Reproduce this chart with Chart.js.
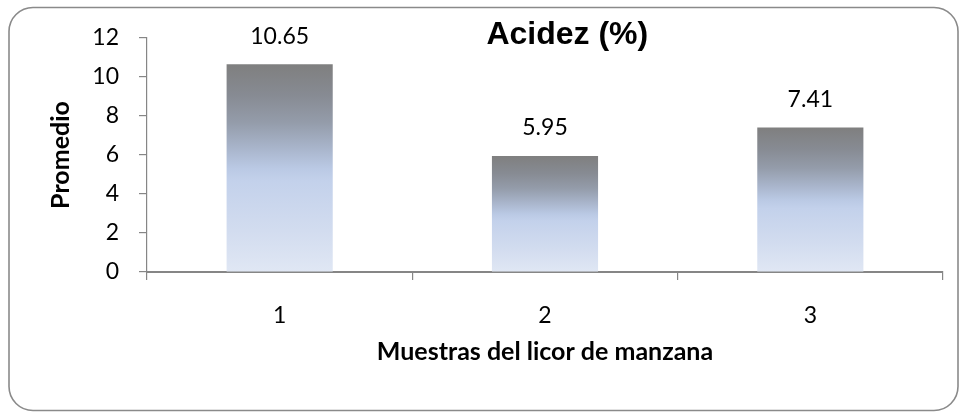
<!DOCTYPE html>
<html>
<head>
<meta charset="utf-8">
<title>Acidez (%)</title>
<script src="https://cdn.jsdelivr.net/npm/chart.js@4/dist/chart.umd.min.js"></script>
<style>
  html, body { margin: 0; padding: 0; background: #ffffff; }
  #wrap { width: 962px; height: 413px; position: relative; }
</style>
</head>
<body>
<div id="wrap"><canvas id="chart" width="962" height="413"></canvas></div>
<script>
// Sample labels and mean acidity per sample
const categories = ['1', '2', '3'];
const acidez = [10.65, 5.95, 7.41];
const yTicks = [0, 2, 4, 6, 8, 10, 12];

const chartTitle = 'Acidez (%)';
const yTitle = 'Promedio';
const xTitle = 'Muestras del licor de manzana';

const AXIS_GREY = '#868686';
const LABEL_FONT = 'Lato, "Open Sans", "DejaVu Sans", sans-serif';

// Vertical gray-to-pale-blue fill, computed per bar from its own extent
function barGradient(ctx) {
  const chart = ctx.chart;
  if (!chart.chartArea || ctx.type !== 'data') return '#c6d4ec';
  const y = chart.scales.y;
  const top = y.getPixelForValue(ctx.raw);
  const base = y.getPixelForValue(0);
  const g = chart.ctx.createLinearGradient(0, top, 0, base);
  g.addColorStop(0.00, '#7f7f7f');
  g.addColorStop(0.15, '#878b93');
  g.addColorStop(0.28, '#949caa');
  g.addColorStop(0.40, '#a8b4ca');
  g.addColorStop(0.50, '#bac9e4');
  g.addColorStop(0.56, '#c3d1eb');
  g.addColorStop(0.80, '#d2dcef');
  g.addColorStop(1.00, '#e0e7f4');
  return g;
}

// Rounded frame around the whole chart
const framePlugin = {
  id: 'frame',
  afterDraw(chart) {
    const c = chart.ctx;
    c.save();
    c.strokeStyle = '#8a8a8a';
    c.lineWidth = 1.6;
    c.beginPath();
    c.roundRect(9, 7.5, 949, 403, 24);
    c.stroke();
    c.restore();
  }
};

// Chart heading placed inside the plot, right of centre
const headingPlugin = {
  id: 'heading',
  afterDraw(chart) {
    const c = chart.ctx;
    const area = chart.chartArea;
    c.save();
    c.font = 'bold 32px "Liberation Sans", Arial, sans-serif';
    c.fillStyle = '#000000';
    c.textAlign = 'center';
    c.textBaseline = 'middle';
    c.fillText(chartTitle, area.left + (area.right - area.left) * 0.528, 35);
    c.restore();
  }
};

// Value written above each bar
const valueLabels = {
  id: 'valueLabels',
  afterDatasetsDraw(chart) {
    const c = chart.ctx;
    const meta = chart.getDatasetMeta(0);
    const values = chart.data.datasets[0].data;
    c.save();
    c.font = '23px ' + LABEL_FONT;
    c.fillStyle = '#000000';
    c.textAlign = 'center';
    c.textBaseline = 'middle';
    meta.data.forEach((bar, i) => {
      c.fillText(values[i].toFixed(2), bar.x, bar.y - 28);
    });
    c.restore();
  }
};

new Chart(document.getElementById('chart'), {
  type: 'bar',
  data: {
    labels: categories,
    datasets: [{
      label: chartTitle,
      data: acidez,
      backgroundColor: barGradient,
      borderWidth: 0,
      categoryPercentage: 1.0,
      barPercentage: 0.4
    }]
  },
  options: {
    responsive: false,
    animation: false,
    layout: { padding: { top: 38, right: 19, left: 0, bottom: 0 } },
    plugins: {
      legend: { display: false },
      title: { display: false },
      tooltip: { enabled: false }
    },
    scales: {
      x: {
        offset: true,
        afterFit(scale) { scale.height = 141; },
        border: { display: true, color: AXIS_GREY, width: 2 },
        grid: {
          offset: true,
          drawOnChartArea: false,
          drawTicks: true,
          tickLength: 8,
          color: AXIS_GREY,
          lineWidth: 1.2
        },
        ticks: {
          color: '#000000',
          padding: 22,
          font: { family: LABEL_FONT, size: 23 }
        },
        title: {
          display: true,
          text: xTitle,
          color: '#000000',
          font: { family: LABEL_FONT, size: 25, weight: 'bold' },
          padding: { top: 0, bottom: 46 }
        }
      },
      y: {
        min: 0,
        max: 12,
        afterFit(scale) { scale.width = 147; },
        afterBuildTicks(scale) { scale.ticks = yTicks.map(v => ({ value: v })); },
        border: { display: true, color: AXIS_GREY, width: 1.2 },
        grid: {
          drawOnChartArea: false,
          drawTicks: true,
          tickLength: 8,
          color: AXIS_GREY,
          lineWidth: 1.2
        },
        ticks: {
          color: '#000000',
          padding: 20,
          font: { family: LABEL_FONT, size: 23 }
        },
        title: {
          display: true,
          text: yTitle,
          color: '#000000',
          font: { family: LABEL_FONT, size: 25, weight: 'bold' },
          padding: { top: 46, bottom: 0 }
        }
      }
    }
  },
  plugins: [framePlugin, headingPlugin, valueLabels]
});
</script>
</body>
</html>
